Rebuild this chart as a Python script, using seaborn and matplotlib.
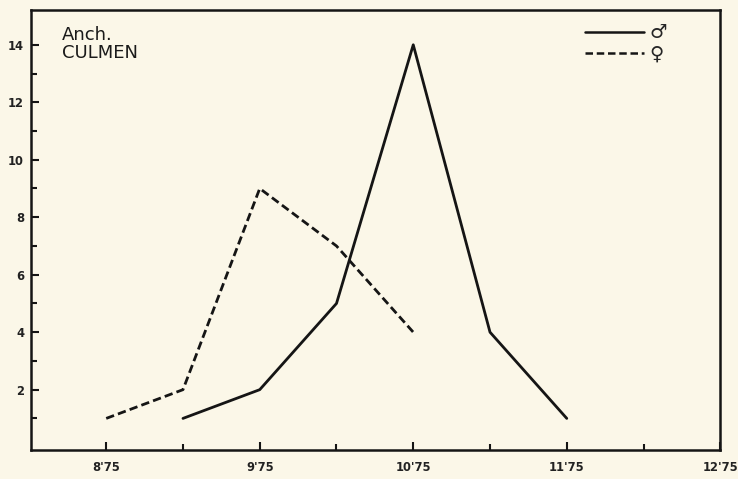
import matplotlib
matplotlib.use("Agg")
import matplotlib.pyplot as plt
import pandas as pd
import seaborn as sns
from matplotlib.lines import Line2D

# culmen length classes (mm) and counts per sex
male_x = [9.25, 9.75, 10.25, 10.75, 11.25, 11.75]
male_n = [1, 2, 5, 14, 4, 1]
female_x = [8.75, 9.25, 9.75, 10.25, 10.75]
female_n = [1, 2, 9, 7, 4]
xticks = [8.75, 9.75, 10.75, 11.75, 12.75]
xtick_labels = ["8'75", "9'75", "10'75", "11'75", "12'75"]

df = pd.concat([
    pd.DataFrame({"culmen": male_x, "n": male_n, "sex": "male"}),
    pd.DataFrame({"culmen": female_x, "n": female_n, "sex": "female"}),
])

sns.set_theme(style="ticks", rc={"axes.facecolor": "#fbf7e8", "figure.facecolor": "#fbf7e8"})
plt.rcParams["font.family"] = ["DejaVu Sans"]

fig = plt.figure(figsize=(7.38, 4.79), dpi=100)
ax = fig.add_axes([0.042, 0.0605, 0.934, 0.918])

sns.lineplot(data=df, x="culmen", y="n", style="sex", style_order=["male", "female"],
             dashes={"male": "", "female": (3, 1.5)}, color="#151515", linewidth=2.0,
             legend=False, ax=ax)

ax.set_xlim(8.26, 12.75)
ax.set_ylim(-0.1, 15.2)
ax.set_xticks(xticks)
ax.set_xticklabels(xtick_labels)
ax.set_xticks([9.25, 10.25, 11.25, 12.25], minor=True)
ax.set_yticks([2, 4, 6, 8, 10, 12, 14])
ax.set_yticks([1, 3, 5, 7, 9, 11, 13], minor=True)
ax.tick_params(which="both", direction="in", color="#151515", width=1.5)
ax.tick_params(which="major", length=6, labelsize=8.3)
ax.tick_params(axis="x", which="major", pad=8)
ax.tick_params(axis="y", which="major", pad=5)
ax.tick_params(which="minor", length=4)
for lab in ax.get_xticklabels() + ax.get_yticklabels():
    lab.set_fontweight("bold")
    lab.set_color("#222222")
for s in ax.spines.values():
    s.set_linewidth(1.8)
    s.set_color("#151515")
ax.set_xlabel("")
ax.set_ylabel("")

ax.text(0.045, 0.965, "Anch.\nCULMEN", transform=ax.transAxes, ha="left", va="top",
        fontsize=13, color="#1a1a1a", linespacing=1.05)

handles = [Line2D([], [], color="#151515", lw=1.8),
           Line2D([], [], color="#151515", lw=1.8, dashes=(3, 1.5))]
leg = ax.legend(handles, ["♂", "♀"], loc="upper right", bbox_to_anchor=(0.948, 1.01),
                frameon=False, fontsize=14, handlelength=3.0, handletextpad=0.3,
                labelspacing=0.1)
for t in leg.get_texts():
    t.set_fontweight("bold")

fig.savefig("out.png", dpi=100)
